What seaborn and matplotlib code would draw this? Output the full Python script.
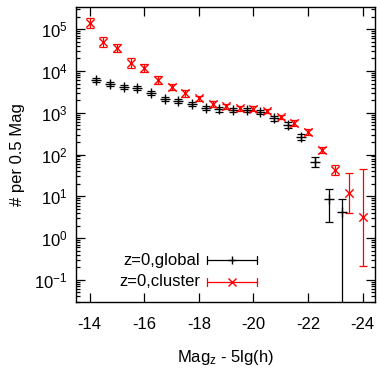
import numpy as np
import pandas as pd
import matplotlib
matplotlib.use("Agg")
import matplotlib.pyplot as plt
import matplotlib.ticker as mticker
import seaborn as sns

# ---- data ----
mag_cluster = [-14, -14.5, -15, -15.5, -16, -16.5, -17, -17.5, -18, -18.5, -19,
               -19.5, -20, -20.5, -21, -21.5, -22, -22.5, -23, -23.5, -24]
n_cluster = [1.4e5, 4.9e4, 3.5e4, 1.55e4, 1.17e4, 6.0e3, 4.1e3, 2.9e3, 2.2e3, 1.6e3,
             1.45e3, 1.3e3, 1.25e3, 1.1e3, 790, 570, 350, 128, 43, 12, 3.2]
lo_cluster = [3.4e4, 1.2e4, 7.2e3, 3.7e3, 2.4e3, 1.1e3, 6.8e2, 4.8e2, 3.3e2, 2.3e2,
              1.9e2, 1.7e2, 1.6e2, 1.4e2, 100, 75, 53, 21, 10, 8, 2.98]
hi_cluster = [4.5e4, 1.6e4, 8.6e3, 4.9e3, 2.8e3, 1.4e3, 8.2e2, 5.8e2, 3.8e2, 2.7e2,
              2.1e2, 1.9e2, 1.8e2, 1.6e2, 115, 85, 61, 25, 12, 24, 42]

mag_global = [-14.25, -14.75, -15.25, -15.75, -16.25, -16.75, -17.25, -17.75, -18.25,
              -18.75, -19.25, -19.75, -20.25, -20.75, -21.25, -21.75, -22.25, -22.75, -23.25]
n_global = [6.0e3, 4.8e3, 4.1e3, 3.9e3, 3.0e3, 2.1e3, 1.95e3, 1.65e3, 1.3e3,
            1.2e3, 1.15e3, 1.15e3, 1.05e3, 740, 500, 264, 66, 8.6, 4.2]
lo_global = [650, 520, 440, 420, 330, 230, 210, 180, 140,
             130, 125, 125, 115, 95, 75, 40, 15, 6.2, 4.19]
hi_global = [730, 590, 500, 480, 370, 260, 240, 200, 160,
             150, 140, 140, 130, 110, 88, 46, 19, 6.4, 4.4]

labels = ["z=0,global", "z=0,cluster"]
colors = ["#000000", "#ff0000"]
xticks = [-14, -16, -18, -20, -22, -24]

# ---- style ----
sns.set_style("ticks")
plt.rcParams["font.family"] = ["Liberation Sans", "DejaVu Sans"]
plt.rcParams["mathtext.default"] = "regular"
plt.rcParams["axes.unicode_minus"] = False
plt.rcParams["font.size"] = 12
plt.rcParams["text.color"] = "black"
plt.rcParams["axes.labelcolor"] = "black"
plt.rcParams["xtick.color"] = "black"
plt.rcParams["ytick.color"] = "black"

fig = plt.figure(figsize=(3.77, 3.68), dpi=100)
ax = fig.add_axes([0.2016, 0.1793, 0.7931, 0.8017])

df_g = pd.DataFrame({"mag": mag_global, "n": n_global})
df_c = pd.DataFrame({"mag": mag_cluster, "n": n_cluster})

ax.errorbar(mag_global, n_global, yerr=[lo_global, hi_global], fmt="none",
            ecolor=colors[0], elinewidth=0.9, capsize=3.2, capthick=0.9, zorder=2)
ax.errorbar(mag_cluster, n_cluster, yerr=[lo_cluster, hi_cluster], fmt="none",
            ecolor=colors[1], elinewidth=0.9, capsize=3.2, capthick=0.9, zorder=3)
sns.scatterplot(data=df_g, x="mag", y="n", marker="+", color=colors[0], s=45,
                linewidth=1.0, ax=ax, zorder=4)
sns.scatterplot(data=df_c, x="mag", y="n", marker="x", color=colors[1], s=36,
                linewidth=1.0, ax=ax, zorder=5)

ax.set_yscale("log")
ax.set_ylim(0.0295, 3.4e5)
ax.set_xlim(-13.5, -24.45)
ax.set_xticks(xticks)
ax.set_xticklabels([str(t) for t in xticks])
ax.xaxis.set_minor_locator(mticker.NullLocator())
ax.yaxis.set_major_locator(mticker.LogLocator(base=10, numticks=20))
ax.yaxis.set_minor_locator(mticker.LogLocator(base=10, subs=np.arange(2, 10), numticks=20))
ax.yaxis.set_major_formatter(mticker.LogFormatterMathtext())

ax.tick_params(axis="both", which="both", direction="in", top=True, right=True,
               color="black", labelcolor="black", width=0.9)
ax.tick_params(axis="both", which="major", length=6.5)
ax.tick_params(axis="y", which="minor", length=3.2)
ax.tick_params(axis="x", which="major", pad=11, labelsize=12)
ax.tick_params(axis="y", which="major", pad=6, labelsize=12)
for sp in ax.spines.values():
    sp.set_color("black")
    sp.set_linewidth(1.0)

ax.set_xlabel("Mag$_z$ - 5lg(h)", fontsize=12, labelpad=11, color="black")
ax.set_ylabel("# per 0.5 Mag", fontsize=12, labelpad=7, color="black")

# ---- gnuplot-like key ----
key_y = [0.142, 0.068]
key_markers = ["+", "x"]
for yk, lab, col, mk in zip(key_y, labels, colors, key_markers):
    ax.text(0.415, yk, lab, transform=ax.transAxes, ha="right", va="center",
            fontsize=12, color="black")
    ax.plot([0.438, 0.605], [yk, yk], transform=ax.transAxes, color=col, lw=0.9)
    for xc in (0.438, 0.605):
        ax.plot([xc, xc], [yk - 0.0136, yk + 0.0136], transform=ax.transAxes,
                color=col, lw=0.9)
    ax.plot([0.5215], [yk], transform=ax.transAxes, color=col, marker=mk,
            ms=6, mew=1.0, ls="none")

fig.savefig("out.png", dpi=100)
